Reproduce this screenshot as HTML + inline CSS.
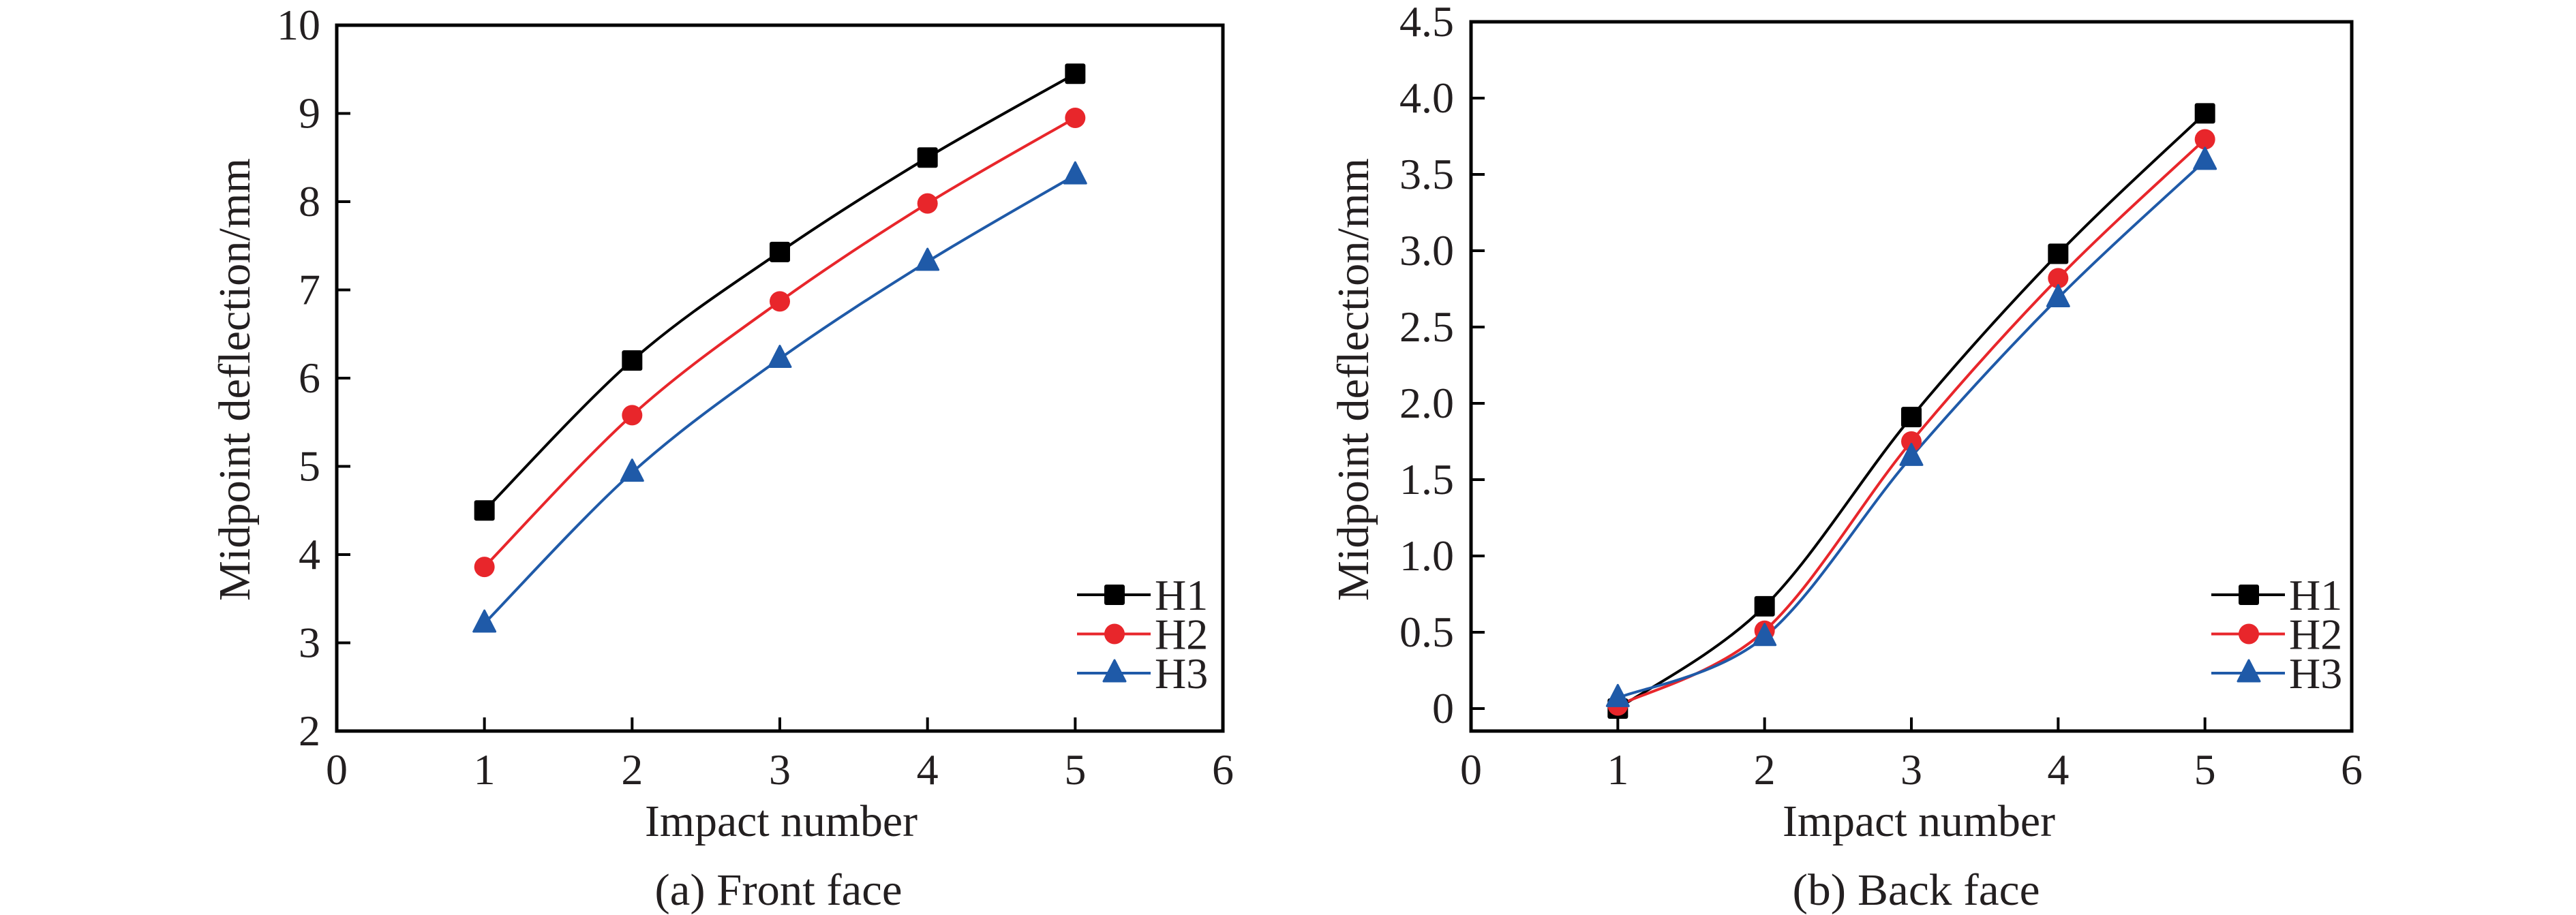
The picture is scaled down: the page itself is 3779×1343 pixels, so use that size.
<!DOCTYPE html>
<html><head><meta charset="utf-8"><style>
html,body{margin:0;padding:0;background:#fff}
svg{display:block}
svg text{font-family:"Liberation Serif","DejaVu Serif",serif !important;fill:#231f20}
</style></head><body>
<svg id="svg" width="3779" height="1343" viewBox="0 0 3779 1343" xmlns="http://www.w3.org/2000/svg" font-family="Liberation Serif, DejaVu Serif, serif"></svg>
<script>
const xTicks=[0,1,2,3,4,5,6];
const impacts=[1,2,3,4,5];
const seriesNames=['H1','H2','H3'];
const frontH1=[4.5,6.2,7.43,8.5,9.45];
const frontH2=[3.86,5.58,6.87,7.98,8.95];
const frontH3=[3.22,4.93,6.22,7.32,8.3];
const backH1=[0.0,0.67,1.91,2.98,3.9];
const backH2=[0.02,0.51,1.75,2.82,3.73];
const backH3=[0.07,0.47,1.65,2.69,3.59];
const frontYTicks=[2,3,4,5,6,7,8,9,10];
const frontYLabels=['2','3','4','5','6','7','8','9','10'];
const backYTicks=[0,0.5,1,1.5,2,2.5,3,3.5,4,4.5];
const backYLabels=['0','0.5','1.0','1.5','2.0','2.5','3.0','3.5','4.0','4.5'];
const colors=['#000000','#e8262b','#1f5aa8'];
const markers=['square','circle','triangle'];

const NS='http://www.w3.org/2000/svg';
const svg=document.getElementById('svg');
const FF='Liberation Serif, DejaVu Serif, serif';
function mk(tag,attrs,parent){const e=document.createElementNS(NS,tag);for(const k in attrs)e.setAttribute(k,attrs[k]);if(tag==='text'){e.setAttribute('font-family',FF);}(parent||svg).appendChild(e);return e;}

function spline(pts){
  let d='M'+pts[0][0]+','+pts[0][1];
  for(let i=0;i<pts.length-1;i++){
    const p0=pts[i-1]||pts[i],p1=pts[i],p2=pts[i+1],p3=pts[i+2]||pts[i+1];
    const c1x=p1[0]+(p2[0]-p0[0])/6,c1y=p1[1]+(p2[1]-p0[1])/6;
    const c2x=p2[0]-(p3[0]-p1[0])/6,c2y=p2[1]-(p3[1]-p1[1])/6;
    d+=' C'+c1x+','+c1y+' '+c2x+','+c2y+' '+p2[0]+','+p2[1];
  }
  return d;
}
function marker(g,type,x,y,c){
  if(type==='square'){const m=mk('rect',{x:x-15,y:y-15,width:30,height:30,rx:3,fill:c},g);}
  else if(type==='circle'){const m=mk('circle',{cx:x,cy:y,r:15,fill:c},g);}
  else{const m=mk('polygon',{points:(x)+','+(y-19)+' '+(x-16)+','+(y+12)+' '+(x+16)+','+(y+12),fill:c,'stroke':c,'stroke-width':3,'stroke-linejoin':'round'},g);}
}

function chart(cfg){
  const g=mk('g',{});
  
  
  const L=cfg.L,R=cfg.R,T=cfg.T,B=cfg.B;
  const sx=v=>L+(v-0)/(6-0)*(R-L);
  const sy=v=>cfg.y0px+(v-cfg.y0)*(cfg.y1px-cfg.y0px)/(cfg.y1-cfg.y0);
  xTicks.forEach(t=>{
    if(t>0&&t<6){const tk=mk('line',{x1:sx(t),x2:sx(t),y1:B,y2:B-20,stroke:'#000','stroke-width':4},g);}
    const tl=mk('text',{x:sx(t),y:1151,'font-size':64,'text-anchor':'middle'},g);tl.textContent=String(t);
    
    
  });
  cfg.yTicks.forEach((t,i)=>{
    const y=sy(t);
    if(Math.abs(y-T)>3){const tk=mk('line',{x1:L,x2:L+20,y1:y,y2:y,stroke:'#000','stroke-width':4},g);}
    const tl=mk('text',{x:cfg.labelRight,y:y+21,'font-size':64,'text-anchor':'end'},g);tl.textContent=cfg.yLabels[i];
    
    
  });
  const frame=mk('rect',{x:L,y:T,width:R-L,height:B-T,fill:'none',stroke:'#000','stroke-width':5},g);
  
  
  cfg.series.forEach((vals,si)=>{
    const pts=impacts.map((x,i)=>[sx(x),sy(vals[i])]);
    const p=mk('path',{d:spline(pts),fill:'none',stroke:colors[si],'stroke-width':4},g);
    
    
  });
  cfg.series.forEach((vals,si)=>{
    impacts.forEach((x,i)=>marker(g,markers[si],sx(x),sy(vals[i]),colors[si]));
  });
  const lg=mk('g',{},g);
  
  
  seriesNames.forEach((n,si)=>{
    const y=cfg.legY+si*57.5;
    const ln=mk('line',{x1:cfg.legX,x2:cfg.legX+108,y1:y,y2:y,stroke:colors[si],'stroke-width':4},lg);
    
    
    marker(lg,markers[si],cfg.legX+55,y,colors[si]);
    const t=mk('text',{x:cfg.legX+114,y:y+22,'font-size':64},lg);t.textContent=n;
    
    
  });
  const yt=mk('text',{x:0,y:0,'font-size':66,'text-anchor':'middle',transform:'translate('+(cfg.ytX+20)+',557) rotate(-90)',textLength:650,lengthAdjust:'spacingAndGlyphs'},g);
  yt.textContent='Midpoint deflection/mm';
  
  
  const xt=mk('text',{x:cfg.xtX,y:1227,'font-size':66,'text-anchor':'middle',textLength:400,lengthAdjust:'spacingAndGlyphs'},g);
  xt.textContent='Impact number';
  
  
  const cp=mk('text',{x:cfg.xtX-4,y:1328,'font-size':66,'text-anchor':'middle',textLength:cfg.capLen,lengthAdjust:'spacingAndGlyphs'},g);
  cp.textContent=cfg.caption;
  
  
}

chart({name:'front-face-chart',L:494,R:1794,T:37,B:1073,y0:2,y1:10,y0px:1073,y1px:37,
  yTicks:frontYTicks,yLabels:frontYLabels,labelRight:470,series:[frontH1,frontH2,frontH3],
  legX:1580,legY:873,ytX:346,xtX:1146,caption:'(a) Front face',capLen:363});
chart({name:'back-face-chart',L:2158,R:3450,T:32,B:1073,y0:0,y1:4.5,y0px:1040,y1px:32,
  yTicks:backYTicks,yLabels:backYLabels,labelRight:2133,series:[backH1,backH2,backH3],
  legX:3244,legY:873,ytX:1987,xtX:2815,caption:'(b) Back face',capLen:363});
</script>
</body></html>
